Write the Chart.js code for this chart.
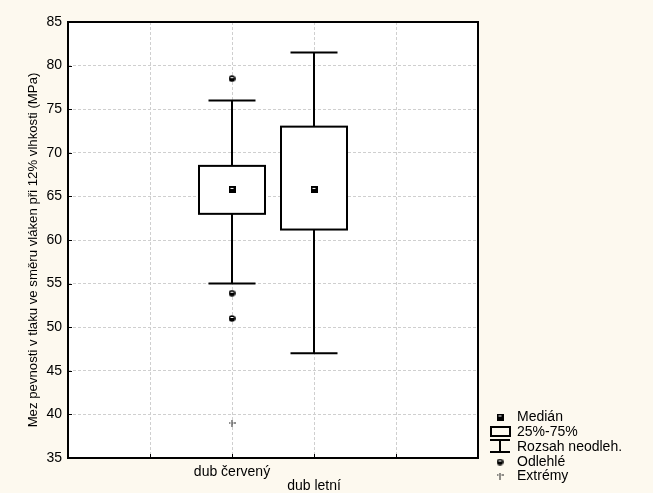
<!DOCTYPE html>
<html>
<head>
<meta charset="utf-8">
<script src="https://cdn.jsdelivr.net/npm/chart.js@4/dist/chart.umd.min.js"></script>
<style>
  html, body { margin: 0; padding: 0; background: #fdf9ef; }
  #wrap { width: 653px; height: 493px; }
</style>
</head>
<body>
<div id="wrap"><canvas id="c" width="653" height="493"></canvas></div>
<script>
// Oak species compared on compressive strength along the grain
const categories = ['dub červený', 'dub letní'];
const categoryPos = [2, 3];
const medians = [65.8, 65.8];
const q1 = [63.0, 61.2];
const q3 = [68.5, 73.0];
const whiskerLow = [55.0, 47.0];
const whiskerHigh = [76.0, 81.5];
const outliers = [[78.5, 53.9, 51.0], []];
const extremes = [[38.9], []];
const yTicks = [35, 40, 45, 50, 55, 60, 65, 70, 75, 80, 85];
const xTicks = [0, 1, 2, 3, 4, 5];
const yTitle = 'Mez pevnosti v tlaku ve směru vláken při 12% vlhkosti (MPa)';
const legendLabels = ['Medián', '25%-75%', 'Rozsah neodleh.', 'Odlehlé', 'Extrémy'];

const FONT = '"Liberation Sans", Arial, sans-serif';

// small bitmap markers used as point styles
function marker(w, h, paint) {
  const c = document.createElement('canvas');
  c.width = w; c.height = h;
  paint(c.getContext('2d'));
  return c;
}
const medianMark = marker(7, 7, g => {
  g.fillStyle = '#000'; g.fillRect(0, 0, 7, 7);
  g.fillStyle = '#fff'; g.fillRect(2, 2, 3, 1);
});
const outlierMark = marker(7, 7, g => {
  g.fillStyle = '#000'; g.beginPath(); g.arc(3.5, 3.5, 3.3, 0, Math.PI * 2); g.fill();
  g.fillStyle = '#fff'; g.fillRect(2, 2, 3, 1);
});
const extremeMark = marker(7, 7, g => {
  g.fillStyle = '#222';
  g.fillRect(3, 0, 1, 7);
  g.fillRect(0, 2, 2, 1);
  g.fillRect(5, 2, 2, 1);
});

const medianPts = categoryPos.map((x, i) => ({ x, y: medians[i] }));
const outlierPts = [];
const extremePts = [];
categoryPos.forEach((x, i) => {
  outliers[i].forEach(y => outlierPts.push({ x, y }));
  extremes[i].forEach(y => extremePts.push({ x, y }));
});

const BOX_W = 66, CAP_W = 47, TICK_LEN = 4;

const boxPlotPlugin = {
  id: 'boxPlot',
  beforeDraw(chart) {
    const { ctx, chartArea: a } = chart;
    ctx.save();
    ctx.fillStyle = '#fdf9ef';
    ctx.fillRect(0, 0, chart.width, chart.height);
    ctx.fillStyle = '#ffffff';
    ctx.fillRect(a.left, a.top, a.right - a.left, a.bottom - a.top);
    ctx.restore();
  },
  beforeDatasetsDraw(chart) {
    const { ctx, scales: { x, y } } = chart;
    ctx.save();
    ctx.strokeStyle = '#000';
    ctx.lineWidth = 2;
    categoryPos.forEach((pos, i) => {
      const cx = Math.round(x.getPixelForValue(pos));
      const yHi = y.getPixelForValue(whiskerHigh[i]);
      const yLo = y.getPixelForValue(whiskerLow[i]);
      const yQ3 = y.getPixelForValue(q3[i]);
      const yQ1 = y.getPixelForValue(q1[i]);
      ctx.beginPath();
      ctx.moveTo(cx, yHi); ctx.lineTo(cx, yQ3);
      ctx.moveTo(cx, yQ1); ctx.lineTo(cx, yLo);
      ctx.moveTo(cx - CAP_W / 2, yHi); ctx.lineTo(cx + CAP_W / 2, yHi);
      ctx.moveTo(cx - CAP_W / 2, yLo); ctx.lineTo(cx + CAP_W / 2, yLo);
      ctx.stroke();
      ctx.fillStyle = '#fff';
      ctx.fillRect(cx - BOX_W / 2, yQ3, BOX_W, yQ1 - yQ3);
      ctx.strokeRect(cx - BOX_W / 2, yQ3, BOX_W, yQ1 - yQ3);
    });
    ctx.restore();
  },
  afterDraw(chart) {
    const { ctx, chartArea: a, scales: { x, y } } = chart;
    ctx.save();
    // plot frame
    ctx.strokeStyle = '#000';
    ctx.lineWidth = 2;
    ctx.strokeRect(a.left, a.top, a.right - a.left, a.bottom - a.top);

    // short inner tick marks along the axes
    ctx.lineWidth = 1;
    ctx.beginPath();
    yTicks.forEach(v => {
      const py = Math.round(y.getPixelForValue(v)) + 0.5;
      ctx.moveTo(a.left, py); ctx.lineTo(a.left + TICK_LEN, py);
    });
    xTicks.forEach(v => {
      const px = Math.round(x.getPixelForValue(v)) + 0.5;
      ctx.moveTo(px, a.bottom); ctx.lineTo(px, a.bottom - TICK_LEN);
    });
    ctx.stroke();

    // axis title
    ctx.fillStyle = '#000';
    ctx.font = '13.2px ' + FONT;
    ctx.textAlign = 'center';
    ctx.textBaseline = 'middle';
    ctx.translate(33, 250);
    ctx.rotate(-Math.PI / 2);
    ctx.fillText(yTitle, 0, 0);
    ctx.setTransform(1, 0, 0, 1, 0, 0);

    // legend
    const sx = 500, tx = 517;
    const rows = [417, 432, 447, 462, 476];
    ctx.drawImage(medianMark, sx - 3.5, rows[0] - 3.5);
    ctx.lineWidth = 2;
    ctx.strokeRect(491, 427, 19, 9);
    ctx.beginPath();
    ctx.moveTo(490, 440); ctx.lineTo(510, 440);
    ctx.moveTo(500, 440); ctx.lineTo(500, 452);
    ctx.moveTo(490, 452); ctx.lineTo(510, 452);
    ctx.stroke();
    ctx.drawImage(outlierMark, sx - 3.5, rows[3] - 3.5);
    ctx.drawImage(extremeMark, sx - 3.5, rows[4] - 3.5);
    ctx.font = '14px ' + FONT;
    ctx.textAlign = 'left';
    ctx.textBaseline = 'middle';
    legendLabels.forEach((t, i) => ctx.fillText(t, tx, rows[i]));
    ctx.restore();
  }
};

new Chart(document.getElementById('c'), {
  type: 'scatter',
  data: {
    datasets: [
      { label: legendLabels[0], data: medianPts, pointStyle: medianMark, pointRadius: 4 },
      { label: legendLabels[3], data: outlierPts, pointStyle: outlierMark, pointRadius: 4 },
      { label: legendLabels[4], data: extremePts, pointStyle: extremeMark, pointRadius: 4 }
    ]
  },
  options: {
    responsive: false,
    devicePixelRatio: 1,
    animation: false,
    events: [],
    layout: { padding: { top: 22, right: 175, left: 0, bottom: 0 } },
    plugins: { legend: { display: false }, tooltip: { enabled: false } },
    scales: {
      x: {
        type: 'linear',
        min: 0, max: 5,
        afterFit(s) { s.height = 35; },
        afterBuildTicks(s) { s.ticks = xTicks.map(v => ({ value: v })); },
        ticks: {
          padding: 7,
          color: '#000',
          font: { family: FONT, size: 14, lineHeight: 1.0 },
          maxRotation: 0,
          autoSkip: false,
          callback(v) {
            const i = categoryPos.indexOf(v);
            if (i < 0) return '';
            return i % 2 ? ['', categories[i]] : categories[i];
          }
        },
        grid: { color: '#cfcfcf', lineWidth: 1, drawTicks: false },
        border: { display: false, dash: [3, 2] }
      },
      y: {
        min: 35, max: 85,
        afterFit(s) { s.width = 68; },
        afterBuildTicks(s) { s.ticks = yTicks.map(v => ({ value: v })); },
        ticks: {
          padding: 6,
          color: '#000',
          font: { family: FONT, size: 14 }
        },
        grid: { color: '#cfcfcf', lineWidth: 1, drawTicks: false },
        border: { display: false, dash: [3, 2] }
      }
    }
  },
  plugins: [boxPlotPlugin]
});
</script>
</body>
</html>
